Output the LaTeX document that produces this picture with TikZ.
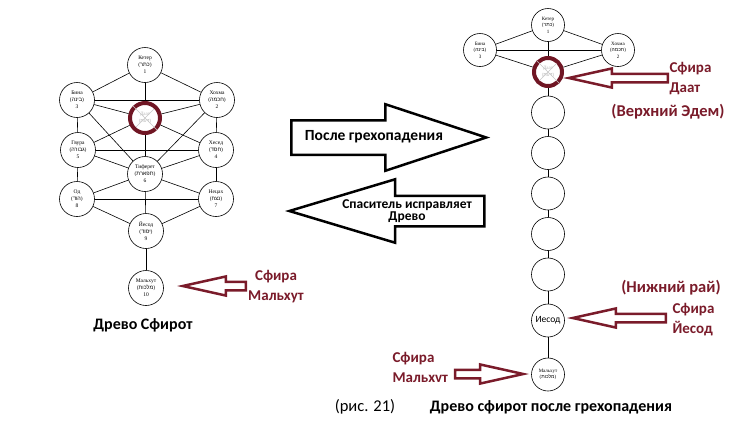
\documentclass[tikz,border=0pt]{standalone}
\usepackage{fontspec}
\setmainfont{Liberation Serif}
\newfontfamily\calibri{Carlito}
\newfontfamily\hebfont[Script=Hebrew]{Liberation Sans}
\TeXXeTstate=1
\usetikzlibrary{positioning, shapes.arrows}
\definecolor{sefred}{RGB}{122,27,42}
\definecolor{daatred}{RGB}{112,22,36}

\newcommand{\heb}[1]{({\hebfont\beginR #1\endR})}

\tikzset{
  sefira/.style={circle, draw, fill=white, line width=0.6pt, minimum size=35pt,
    inner sep=0pt, align=center, font=\fontsize{5.5}{7}\selectfont},
  small sefira/.style={sefira, minimum size=33pt, font=\fontsize{5}{6.5}\selectfont},
  daat/.style={circle, draw=daatred, line width=4pt, fill=white, minimum size=30pt,
    inner sep=0pt, align=center, text=gray!55, font=\fontsize{5}{6.5}\selectfont},
  crossout/.style={gray!45, line width=0.5pt, shorten <=4.5pt, shorten >=4.5pt},
  link/.style={line width=0.6pt},
  bigarrow/.style={single arrow, draw, line width=2.5pt, fill=white, inner xsep=0pt},
  redarrow/.style={single arrow, draw=sefred, line width=2.5pt, fill=white, inner xsep=0pt,
    inner ysep=3pt, single arrow head extend=5.3pt, single arrow tip angle=25},
  redlabel/.style={text=sefred, font=\calibri\bfseries\fontsize{15}{20}\selectfont, align=left},
  remark/.style={redlabel, font=\calibri\bfseries\fontsize{16.5}{20}\selectfont},
  arrowtext/.style={font=\calibri\bfseries\fontsize{15.5}{13}\selectfont, align=center},
  caption/.style={font=\calibri\bfseries\fontsize{16}{18}\selectfont}
}

\begin{document}
\begin{tikzpicture}[x=1pt, y=-1pt]
    \useasboundingbox (0,0) rectangle (744,421);

    % Древо Сфирот (left)
    \node[sefira] (keter)   at (145,65)  {Кетер\\\heb{כתר}\\1};
    \node[sefira] (hokhma)  at (217,100) {Хохма\\\heb{חכמה}\\2};
    \node[sefira] (bina)    at (77,100)  {Бина\\\heb{בינה}\\3};
    \node[daat]   (daat)    at (145,118) {Даат\\\heb{דעת}};
    \node[sefira] (hesed)   at (216,150) {Хесед\\\heb{חסד}\\4};
    \node[sefira] (gvura)   at (78,150)  {Гвура\\\heb{גבורה}\\5};
    \node[sefira] (tiferet) at (145,174) {Тиферет\\\heb{תפארת}\\6};
    \node[sefira] (netsah)  at (216,199) {Нецах\\\heb{נצח}\\7};
    \node[sefira] (hod)     at (77,199)  {Од\\\heb{הוד}\\8};
    \node[sefira] (yesod)   at (146,231) {Йесод\\\heb{יסוד}\\9};
    \node[sefira] (malkhut) at (146,288) {Мальхут\\\heb{מלכות}\\10};
    \draw[crossout] (daat.north west) -- (daat.south east)
                    (daat.north east) -- (daat.south west);

    \path[link]
        (keter) edge (hokhma) edge (bina) edge (daat)
        (bina) edge (hokhma) edge (daat) edge (gvura) edge (tiferet)
        (hokhma) edge (daat) edge (hesed) edge (tiferet)
        (daat) edge (hesed) edge (gvura) edge (tiferet)
        (gvura) edge (hesed) edge (tiferet) edge (hod)
        (hesed) edge (tiferet) edge (netsah)
        (tiferet) edge (hod) edge (netsah) edge (yesod)
        (hod) edge (netsah) edge (yesod)
        (netsah) edge (yesod)
        (yesod) edge (malkhut);

    % Древо после грехопадения (right)
    \node[small sefira] (keterR)  at (548,25) {Кетер\\\heb{כתר}\\1};
    \node[small sefira] (binaR)   at (480,50) {Бина\\\heb{בינה}\\3};
    \node[small sefira] (hokhmaR) at (618,50) {Хохма\\\heb{חכמה}\\2};
    \node[daat, minimum size=28pt] (daatR) at (548,72) {Даат\\\heb{דעת}};
    \draw[crossout, shorten <=4pt, shorten >=4pt]
        (daatR.north west) -- (daatR.south east)
        (daatR.north east) -- (daatR.south west);
    \begin{scope}[on grid, node distance=40.5pt]
        \node[small sefira, below=of daatR]  (emptyA) {};
        \node[small sefira, below=of emptyA] (emptyB) {};
        \node[small sefira, below=of emptyB] (emptyC) {};
        \node[small sefira, below=of emptyC] (emptyD) {};
        \node[small sefira, below=of emptyD] (emptyE) {};
        \node[small sefira, below=46pt of emptyE, font=\calibri\fontsize{9.5}{11}\selectfont] (yesodR) {Иесод};
        \node[small sefira, below=54pt of yesodR] (malkhutR) {Мальхут\\\heb{מלכות}};
    \end{scope}

    \path[link]
        (keterR) edge (binaR) edge (hokhmaR) edge (daatR)
        (binaR) edge (hokhmaR) edge (daatR)
        (hokhmaR) edge (daatR)
        (daatR) edge (emptyA)
        (emptyA) edge (emptyB)
        (emptyB) edge (emptyC)
        (emptyC) edge (emptyD)
        (emptyD) edge (emptyE)
        (emptyE) edge (yesodR)
        (yesodR) edge (malkhutR);

    % big arrows
    \node[bigarrow, minimum height=195pt, inner ysep=16pt, single arrow head extend=16pt,
        single arrow tip angle=36.5, anchor=tail] (fallarrow) at (290,137.5) {};
    \node[arrowtext] (falltext) at (374,137) {После грехопадения};
    \node[bigarrow, shape border rotate=180, minimum height=195pt, inner ysep=14pt,
        single arrow head extend=16.5pt, single arrow tip angle=33.4, anchor=tip] (savearrow) at (285,211) {};
    \node[arrowtext, font=\calibri\bfseries\fontsize{13.5}{12.5}\selectfont] (savetext) at (407,211)
        {Спаситель исправляет\\Древо};

    % red pointers
    \node[redarrow, shape border rotate=180, minimum height=63pt, anchor=tip] (ptrMalkhut) at (177,286) {};
    \node[redlabel, align=center] (lblMalkhut) at (276,287) {Сфира\\Мальхут};
    \node[redarrow, shape border rotate=180, minimum height=99pt, anchor=tip] (ptrDaat) at (563,78) {};
    \node[redlabel, anchor=west] (lblDaat) at (666,79) {Сфира\\Даат};
    \node[remark] (lblEdem) at (668,112) {(Верхний Эдем)};
    \node[remark] (lblRai) at (671,288) {(Нижний рай)};
    \node[redarrow, shape border rotate=180, minimum height=93pt, anchor=tip] (ptrYesod) at (567,318) {};
    \node[redlabel, anchor=west] (lblYesod) at (669,319.5) {Сфира\\Йесод};
    \node[redarrow, minimum height=68pt, anchor=tip] (ptrMalkhutR) at (529,374) {};
    \node[redlabel, anchor=west] (lblMalkhutR) at (389,367) {Сфира\\Мальхvт};

    % captions
    \node[caption] (capLeft) at (143,325) {Древо Сфирот};
    \node[font=\calibri\fontsize{16.5}{18}\selectfont] (figno) at (365,407) {(рис. 21)};
    \node[caption] (capRight) at (551,407) {Древо сфирот после грехопадения};
\end{tikzpicture}
\end{document}
